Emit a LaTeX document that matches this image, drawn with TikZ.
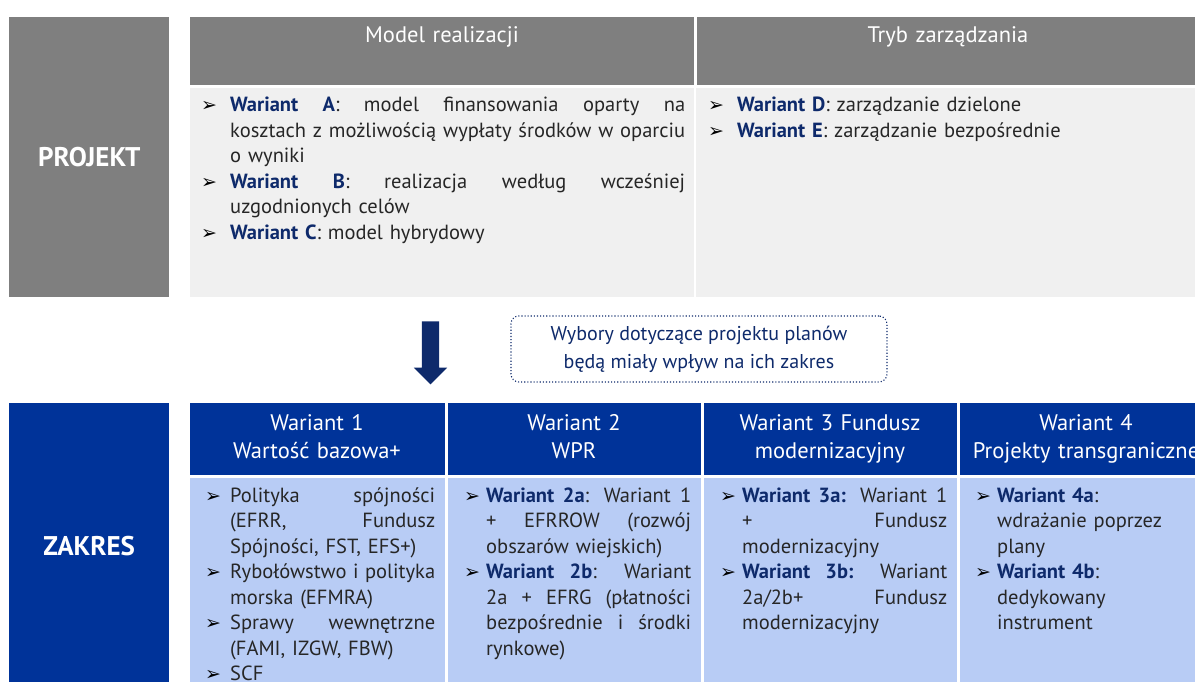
\documentclass[tikz,border=0pt]{standalone}
\usepackage{fontspec}
\setmainfont{PT Sans}
\newfontfamily\symfont{DejaVu Sans}
\usetikzlibrary{positioning, shapes.arrows}
\definecolor{projgray}{HTML}{7F7F7F}
\definecolor{projbody}{HTML}{F0F0F0}
\definecolor{eublue}{HTML}{003399}
\definecolor{zakbody}{HTML}{B8CCF5}
\definecolor{navy}{HTML}{0E2A6B}
\definecolor{txt}{HTML}{262626}
\newlength{\bw}
\newlength{\tw}
\newcommand{\wb}[1]{{\bfseries\color{navy}#1}}
\newcommand{\bul}{{\symfont\fontsize{19}{19}\selectfont\color{black}➢}}
\newcommand{\itemS}[1]{\makebox[\bw][l]{\bul}\makebox[\tw][s]{\spaceskip=0pt\xspaceskip=0pt #1}}
\newcommand{\itemL}[1]{\makebox[\bw][l]{\bul}#1}
\newcommand{\lineS}[1]{\hspace*{\bw}\makebox[\tw][s]{\spaceskip=0pt\xspaceskip=0pt #1}}
\newcommand{\lineL}[1]{\hspace*{\bw}#1}
\tikzset{side box/.style={rectangle, inner sep=0pt, anchor=north west, minimum width=160pt, text=white, font=\bfseries\fontsize{27}{30}\selectfont}}
\tikzset{cell/.style={rectangle, inner sep=0pt, anchor=north west}}
\tikzset{head text/.style={anchor=base, inner sep=0pt, text width=260pt, align=center, text=white, font=\fontsize{22.5}{28}\selectfont}}
\tikzset{item list/.style 2 args={anchor=base west, inner sep=0pt, text width=500pt, align=left, text=txt, font=\fontsize{20.5}{25.5}\selectfont, execute at begin node={\setlength{\bw}{#1}\setlength{\tw}{#2}}}}
\tikzset{note box/.style={draw=navy, dotted, line width=1.1pt, rounded corners=8pt, minimum width=376pt, minimum height=66pt, inner sep=0pt, align=center, text=navy, font=\fontsize{20}{28}\selectfont}}

\begin{document}
\begin{tikzpicture}[x=1pt, y=-1pt]
\useasboundingbox (0,0) rectangle (1195,682);
\clip (0,0) rectangle (1195,682);
% upper block
\node[side box, fill=projgray, minimum height=280pt] (projekt) at (9,17) {PROJEKT};
\node[cell, fill=projgray, minimum width=504pt, minimum height=68pt] (hdModel) at (190,17) {};
\node[cell, fill=projgray, minimum width=510pt, minimum height=68pt] (hdTryb) at (697,17) {};
\node[cell, fill=projbody, minimum width=504pt, minimum height=209pt] (bdModel) at (190,88) {};
\node[cell, fill=projbody, minimum width=510pt, minimum height=209pt] (bdTryb) at (696,88) {};
\node[head text] (tModel) at (442,43) {Model realizacji};
\node[head text] (tTryb) at (948,43) {Tryb zarządzania};
\node[item list={29pt}{455pt}] (lsModel) at (201,112) {%
\itemS{\wb{Wariant} \wb{A}: model finansowania oparty na}\\
\lineS{kosztach z możliwością wypłaty środków w oparciu}\\
\lineL{o wyniki}\\
\itemS{\wb{Wariant} \wb{B}: realizacja według wcześniej}\\
\lineL{uzgodnionych celów}\\
\itemL{\wb{Wariant C}: model hybrydowy}};
\node[item list={29pt}{400pt}] (lsTryb) at (708,112) {%
\itemL{\wb{Wariant D}: zarządzanie dzielone}\\
\itemL{\wb{Wariant E}: zarządzanie bezpośrednie}};
% middle
\node[single arrow, fill=navy, shape border rotate=270, inner sep=8.5pt, single arrow head extend=8pt, minimum height=63pt] (down) at (430.5,348.5) {};
\node[note box] (note) at (699,349) {Wybory dotyczące projektu planów\\będą miały wpływ na ich zakres};
% lower block
\node[side box, fill=eublue, minimum height=285pt] (zakres) at (9,403) {ZAKRES};
\node[cell, fill=eublue, minimum width=255pt, minimum height=72pt] (hd1) at (190,403) {};
\node[cell, fill=eublue, minimum width=253pt, minimum height=72pt] (hd2) at (448,403) {};
\node[cell, fill=eublue, minimum width=253pt, minimum height=72pt] (hd3) at (704,403) {};
\node[cell, fill=eublue, minimum width=260pt, minimum height=72pt] (hd4) at (960,403) {};
\node[cell, fill=zakbody, minimum width=255pt, minimum height=210pt] (bd1) at (190,478) {};
\node[cell, fill=zakbody, minimum width=253pt, minimum height=210pt] (bd2) at (448,478) {};
\node[cell, fill=zakbody, minimum width=253pt, minimum height=210pt] (bd3) at (704,478) {};
\node[cell, fill=zakbody, minimum width=260pt, minimum height=210pt] (bd4) at (960,478) {};
\node[head text] (t1) at (317,430) {Wariant 1\\Wartość bazowa+};
\node[head text] (t2) at (574,430) {Wariant 2\\WPR};
\node[head text] (t3) at (830,430) {Wariant 3 Fundusz\\modernizacyjny};
\node[head text] (t4) at (1086,430) {Wariant 4\\Projekty transgraniczne};
\node[item list={25pt}{205pt}] (ls1) at (205,502) {%
\itemS{Polityka spójności}\\
\lineS{(EFRR, Fundusz}\\
\lineL{Spójności, FST, EFS+)}\\
\itemS{Rybołówstwo i polityka}\\
\lineL{morska (EFMRA)}\\
\itemS{Sprawy wewnętrzne}\\
\lineL{(FAMI, IZGW, FBW)}\\
\itemL{SCF}};
\node[item list={22pt}{205pt}] (ls2) at (464,502) {%
\itemS{\wb{Wariant 2a}: Wariant 1}\\
\lineS{+ EFRROW (rozwój}\\
\lineL{obszarów wiejskich)}\\
\itemS{\wb{Wariant} \wb{2b}: Wariant}\\
\lineS{2a + EFRG (płatności}\\
\lineS{bezpośrednie i środki}\\
\lineL{rynkowe)}};
\node[item list={22pt}{205pt}] (ls3) at (720,502) {%
\itemS{\wb{Wariant 3a:} Wariant 1}\\
\lineS{+ Fundusz}\\
\lineL{modernizacyjny}\\
\itemS{\wb{Wariant} \wb{3b:} Wariant}\\
\lineS{2a/2b+ Fundusz}\\
\lineL{modernizacyjny}};
\node[item list={22pt}{205pt}] (ls4) at (975,502) {%
\itemL{\wb{Wariant 4a}:}\\
\lineL{wdrażanie poprzez}\\
\lineL{plany}\\
\itemL{\wb{Wariant 4b}:}\\
\lineL{dedykowany}\\
\lineL{instrument}};
\end{tikzpicture}
\end{document}
